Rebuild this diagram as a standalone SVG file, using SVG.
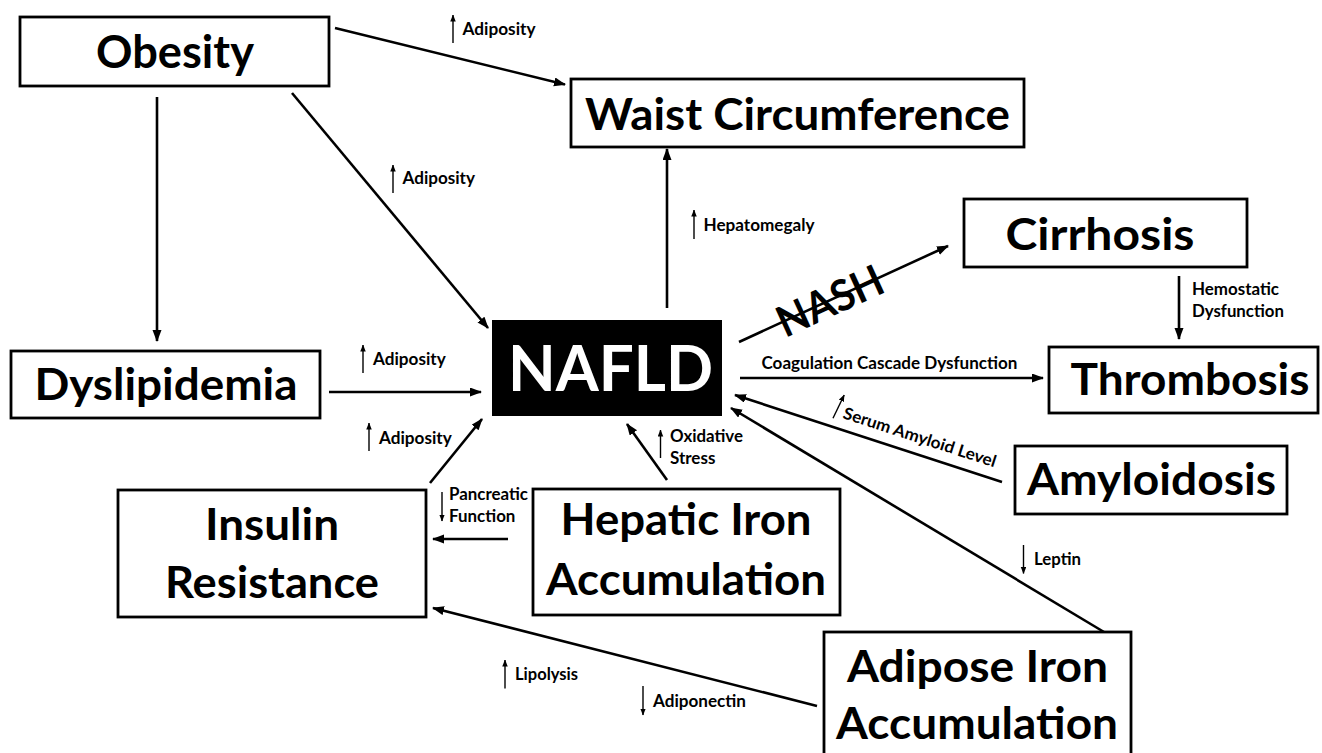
<svg xmlns="http://www.w3.org/2000/svg" width="1322" height="753" viewBox="0 0 1322 753">
<defs>
<marker id="ah" markerUnits="userSpaceOnUse" markerWidth="12" markerHeight="10" refX="11" refY="4.5" orient="auto"><path d="M0,0 L12,4.5 L0,9 z" fill="#000"/></marker>
<marker id="sh" markerUnits="userSpaceOnUse" markerWidth="7" markerHeight="6" refX="6.5" refY="2.75" orient="auto"><path d="M0,0 L7,2.75 L0,5.5 z" fill="#000"/></marker>
<style>
.box{fill:#fff;stroke:#000;stroke-width:2.8}
.nt{font-family:Lato,"Open Sans","Liberation Sans",sans-serif;font-weight:700;font-size:44px;fill:#000;text-anchor:middle}
.lb{font-family:Lato,"Open Sans","Liberation Sans",sans-serif;font-weight:700;font-size:16.5px;fill:#000}
.c{stroke:#000;stroke-width:2.6;fill:none;marker-end:url(#ah)}
.s{stroke:#000;stroke-width:1.4;fill:none;marker-end:url(#sh)}
</style>
</defs>
<rect width="1322" height="753" fill="#fff"/>

<g id="connectors">
<line class="c" x1="335" y1="28" x2="565" y2="84.5"/>
<line class="c" x1="292" y1="93" x2="488" y2="328"/>
<line class="c" x1="157" y1="97" x2="157" y2="341"/>
<line class="c" x1="329" y1="392" x2="481" y2="392"/>
<line class="c" x1="667" y1="308" x2="667" y2="149"/>
<line class="c" x1="739" y1="342" x2="948" y2="246"/>
<line class="c" x1="740" y1="378" x2="1043" y2="378"/>
<line class="c" x1="1179" y1="276" x2="1179" y2="339"/>
<line class="c" x1="1002" y1="482" x2="735" y2="395"/>
<line class="c" x1="1104" y1="632" x2="731" y2="408"/>
<line class="c" x1="667" y1="480" x2="627" y2="424"/>
<line class="c" x1="430" y1="483" x2="482" y2="419"/>
<line class="c" x1="508" y1="539" x2="433" y2="539"/>
<line class="c" x1="817" y1="706" x2="433" y2="608"/>
</g>

<g id="labels">
<line class="s" x1="453" y1="43" x2="453" y2="15"/>
<text class="lb" x="462.5" y="35" textLength="73" lengthAdjust="spacingAndGlyphs">Adiposity</text>
<line class="s" x1="393" y1="193" x2="393" y2="165"/>
<text class="lb" x="402.5" y="184" textLength="72.5" lengthAdjust="spacingAndGlyphs">Adiposity</text>
<line class="s" x1="694" y1="239" x2="694" y2="210"/>
<text class="lb" x="703.5" y="230.5" textLength="111" lengthAdjust="spacingAndGlyphs">Hepatomegaly</text>
<text class="lb" x="1192" y="295" textLength="87" lengthAdjust="spacingAndGlyphs">Hemostatic</text>
<text class="lb" x="1192" y="316.5" textLength="92" lengthAdjust="spacingAndGlyphs">Dysfunction</text>
<text class="lb" x="761.5" y="368.5" textLength="256" lengthAdjust="spacingAndGlyphs">Coagulation Cascade Dysfunction</text>
<line class="s" x1="363" y1="373" x2="363" y2="345"/>
<text class="lb" x="373" y="365" textLength="72.7" lengthAdjust="spacingAndGlyphs">Adiposity</text>
<line class="s" x1="369" y1="451" x2="369" y2="423"/>
<text class="lb" x="379" y="443.5" textLength="72.8" lengthAdjust="spacingAndGlyphs">Adiposity</text>
<line class="s" x1="442" y1="492" x2="442" y2="521"/>
<text class="lb" x="449" y="500" textLength="79" lengthAdjust="spacingAndGlyphs">Pancreatic</text>
<text class="lb" x="449" y="521.5" textLength="66.4" lengthAdjust="spacingAndGlyphs">Function</text>
<line class="s" x1="660.5" y1="458" x2="660.5" y2="430"/>
<text class="lb" x="670" y="441.5" textLength="73" lengthAdjust="spacingAndGlyphs">Oxidative</text>
<text class="lb" x="670" y="463.5" textLength="45.4" lengthAdjust="spacingAndGlyphs">Stress</text>
<g transform="translate(842,418) rotate(18)">
<line class="s" x1="-8.5" y1="3" x2="-5" y2="-22.5"/>
<text class="lb" x="0" y="0" textLength="160" lengthAdjust="spacingAndGlyphs">Serum Amyloid Level</text>
</g>
<line class="s" x1="1023.5" y1="545" x2="1023.5" y2="573.5"/>
<text class="lb" x="1034" y="565" textLength="47" lengthAdjust="spacingAndGlyphs">Leptin</text>
<line class="s" x1="505" y1="688.5" x2="505" y2="660"/>
<text class="lb" x="515" y="679.5" textLength="63" lengthAdjust="spacingAndGlyphs">Lipolysis</text>
<line class="s" x1="643" y1="686" x2="643" y2="715"/>
<text class="lb" x="653" y="706.5" textLength="93" lengthAdjust="spacingAndGlyphs">Adiponectin</text>
<g transform="translate(830,301) rotate(-24.6)">
<text class="nt" x="0" y="15" textLength="112" lengthAdjust="spacingAndGlyphs" style="font-size:43px">NASH</text>
</g>
</g>

<g id="obesity">
<rect class="box" x="20" y="17" width="309" height="69"/>
<text class="nt" x="175" y="68" style="font-size:46px" textLength="158" lengthAdjust="spacingAndGlyphs">Obesity</text>
</g>
<g id="waist">
<rect class="box" x="571" y="79" width="453" height="68"/>
<text class="nt" x="797.5" y="129.5" textLength="425" lengthAdjust="spacingAndGlyphs">Waist Circumference</text>
</g>
<g id="cirrhosis">
<rect class="box" x="964" y="199" width="283" height="68"/>
<text class="nt" x="1100" y="250" textLength="189" lengthAdjust="spacingAndGlyphs">Cirrhosis</text>
</g>
<g id="thrombosis">
<rect class="box" x="1049" y="347" width="269" height="66"/>
<text class="nt" x="1190" y="395" textLength="239" lengthAdjust="spacingAndGlyphs">Thrombosis</text>
</g>
<g id="dyslipidemia">
<rect class="box" x="11" y="351" width="309" height="67"/>
<text class="nt" x="166" y="400" textLength="263" lengthAdjust="spacingAndGlyphs">Dyslipidemia</text>
</g>
<g id="nafld">
<rect x="492" y="320" width="230" height="96" fill="#000"/>
<text class="nt" x="610.5" y="391" style="font-size:64px;fill:#fff" textLength="205" lengthAdjust="spacingAndGlyphs">NAFLD</text>
</g>
<g id="amyloidosis">
<rect class="box" x="1015" y="446" width="272" height="68"/>
<text class="nt" x="1151.5" y="495" textLength="249" lengthAdjust="spacingAndGlyphs">Amyloidosis</text>
</g>
<g id="insulin">
<rect class="box" x="118" y="490" width="308" height="127"/>
<text class="nt" x="272" y="540" textLength="134" lengthAdjust="spacingAndGlyphs">Insulin</text>
<text class="nt" x="272" y="598" textLength="214" lengthAdjust="spacingAndGlyphs">Resistance</text>
</g>
<g id="hepatic">
<rect class="box" x="533" y="489" width="307" height="126"/>
<text class="nt" x="686" y="535" textLength="251" lengthAdjust="spacingAndGlyphs">Hepatic Iron</text>
<text class="nt" x="686" y="595" textLength="280" lengthAdjust="spacingAndGlyphs">Accumulation</text>
</g>
<g id="adipose">
<rect class="box" x="824" y="632" width="307" height="140"/>
<text class="nt" x="977.5" y="682" textLength="261" lengthAdjust="spacingAndGlyphs">Adipose Iron</text>
<text class="nt" x="977" y="739" textLength="282" lengthAdjust="spacingAndGlyphs">Accumulation</text>
</g>
</svg>
